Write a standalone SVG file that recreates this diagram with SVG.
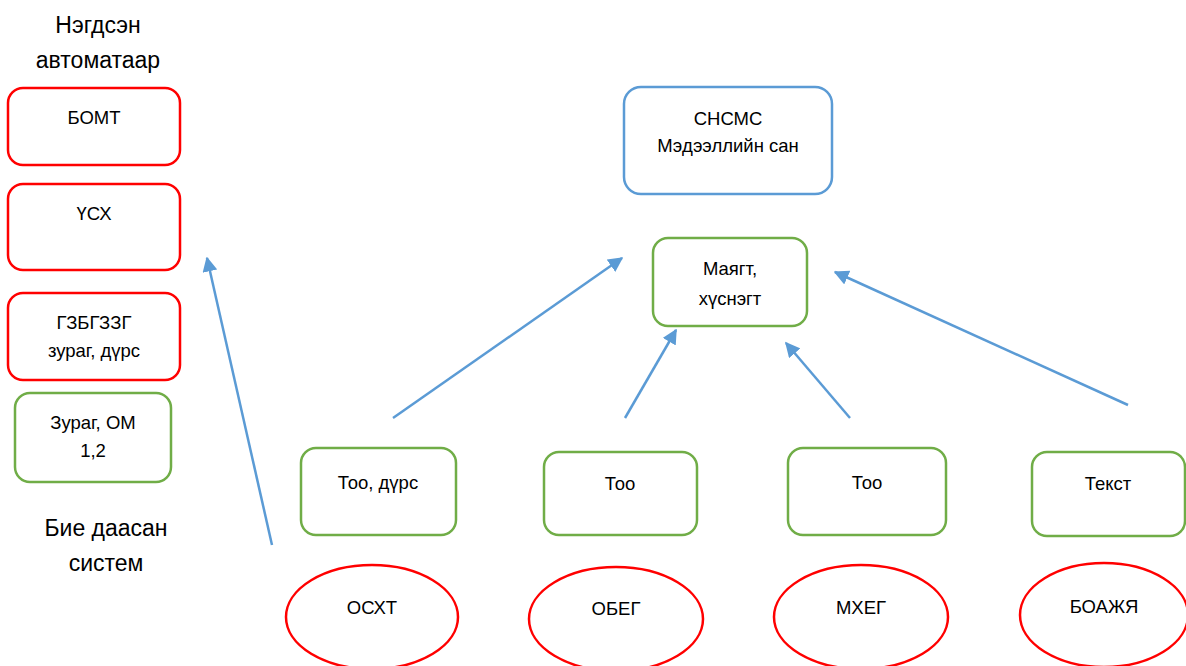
<svg xmlns="http://www.w3.org/2000/svg" width="1186" height="666" viewBox="0 0 1186 666">
<style>
text{font-family:"Liberation Sans","Noto Sans",sans-serif;font-size:18.5px;fill:#000;text-anchor:middle}
.big{font-size:23px}
.red{fill:#fff;stroke:#ff0000;stroke-width:2.5}
.green{fill:#fff;stroke:#70ad47;stroke-width:2.5}
.blue{fill:#fff;stroke:#5b9bd5;stroke-width:2.5}
.conn{stroke:#5b9bd5;stroke-width:2.5;fill:none;marker-end:url(#ah)}
</style>
<defs>
<marker id="ah" viewBox="0 0 10 10" refX="9" refY="5" markerWidth="6" markerHeight="6" markerUnits="strokeWidth" orient="auto">
<path d="M0,0 L10,5 L0,10 z" fill="#5b9bd5"/>
</marker>
</defs>
<rect width="1186" height="666" fill="#fff"/>
<g id="title-top">
<text class="big" x="98" y="33">Нэгдсэн</text>
<text class="big" x="98" y="68">автоматаар</text>
</g>
<g id="title-bottom">
<text class="big" x="106" y="536">Бие даасан</text>
<text class="big" x="106" y="571">систем</text>
</g>
<g id="n-bomt"><rect class="red" x="8" y="88" width="172" height="77" rx="15"/><text x="94" y="124">БОМТ</text></g>
<g id="n-usx"><rect class="red" x="8" y="184" width="172" height="86" rx="15"/><text x="94" y="220">ҮСХ</text></g>
<g id="n-gzbg"><rect class="red" x="8" y="293" width="172" height="87" rx="15"/><text x="94" y="329">ГЗБГЗЗГ</text><text x="94" y="357">зураг, дүрс</text></g>
<g id="n-zurag"><rect class="green" x="15" y="393" width="156" height="89" rx="15"/><text x="93" y="429">Зураг, ОМ</text><text x="93" y="457">1,2</text></g>
<g id="n-snsms"><rect class="blue" x="624" y="87" width="208" height="107" rx="17"/><text x="728" y="125">СНСМС</text><text x="728" y="152">Мэдээллийн сан</text></g>
<g id="n-mayagt"><rect class="green" x="653" y="238" width="154" height="88" rx="15"/><text x="730" y="275">Маягт,</text><text x="730" y="305">хүснэгт</text></g>
<g id="n-too1"><rect class="green" x="301" y="448" width="155" height="87" rx="15"/><text x="378" y="489">Тоо, дүрс</text></g>
<g id="n-too2"><rect class="green" x="544" y="452" width="153" height="83" rx="15"/><text x="620" y="490">Тоо</text></g>
<g id="n-too3"><rect class="green" x="788" y="448" width="158" height="87" rx="15"/><text x="867" y="489">Тоо</text></g>
<g id="n-tekst"><rect class="green" x="1032" y="452" width="153" height="84" rx="15"/><text x="1108" y="490">Текст</text></g>
<g id="n-osxt"><ellipse class="red" cx="372" cy="617" rx="86" ry="52"/><text x="372" y="614">ОСХТ</text></g>
<g id="n-obeg"><ellipse class="red" cx="616" cy="619" rx="87" ry="52"/><text x="616" y="615">ОБЕГ</text></g>
<g id="n-mxeg"><ellipse class="red" cx="861" cy="617" rx="87" ry="52"/><text x="861" y="614">МХЕГ</text></g>
<g id="n-boajya"><ellipse class="red" cx="1104" cy="615" rx="84" ry="52"/><text x="1104" y="613">БОАЖЯ</text></g>
<g id="connectors">
<line class="conn" x1="272" y1="545" x2="207" y2="258"/>
<line class="conn" x1="393" y1="418" x2="622" y2="258"/>
<line class="conn" x1="625" y1="418" x2="676" y2="330"/>
<line class="conn" x1="850" y1="418" x2="786" y2="343"/>
<line class="conn" x1="1128" y1="405" x2="835" y2="272"/>
</g>
</svg>
